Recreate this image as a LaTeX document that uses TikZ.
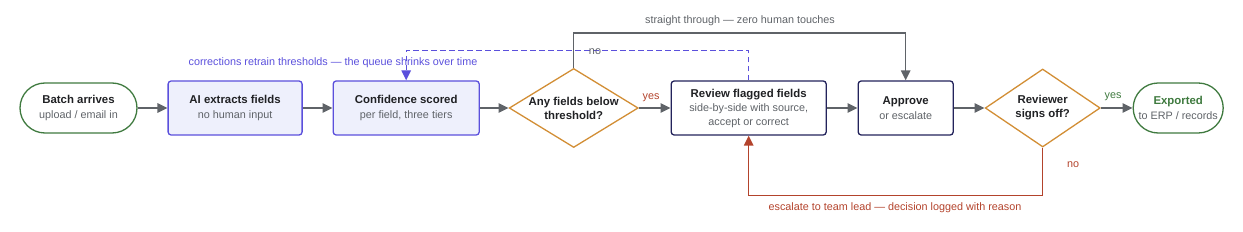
\documentclass[tikz,border=0pt]{standalone}
\usepackage{fontspec}
\setmainfont{Liberation Sans}
\usetikzlibrary{positioning,calc,shapes.geometric,arrows.meta}

\definecolor{ink}{HTML}{202124}
\definecolor{subgray}{HTML}{5F6368}
\definecolor{flowgray}{HTML}{5F6368}
\definecolor{aiblue}{HTML}{5B50DC}
\definecolor{aifill}{HTML}{EEF0FC}
\definecolor{navy}{HTML}{23235B}
\definecolor{gate}{HTML}{D28E35}
\definecolor{okgreen}{HTML}{3F7A3F}
\definecolor{escred}{HTML}{B3432C}

\newcommand{\subtxt}[1]{{\fontsize{10.8}{14}\selectfont\color{subgray}#1}}

\begin{document}
\begin{tikzpicture}[
  x=1pt, y=-1pt,
  >={Triangle[length=10pt,width=9.5pt]},
  node distance=29.8pt,
  every node/.style={font=\fontsize{11.4}{14.5}\selectfont, align=center, text=ink},
  box/.style={draw, line width=1.3pt, rounded corners=3pt, minimum height=54pt, inner sep=2pt},
  terminal/.style={draw=okgreen, line width=1.3pt, rounded corners=25pt, minimum height=50pt, inner sep=2pt},
  aibox/.style={box, draw=aiblue, fill=aifill},
  humanbox/.style={box, draw=navy, fill=white},
  decision/.style={diamond, draw=gate, line width=1.3pt, aspect=1.63, inner sep=-4pt, font=\bfseries\fontsize{11.4}{14}\selectfont},
  flow/.style={->, draw=flowgray, line width=1.4pt},
  tag/.style={font=\fontsize{10.8}{13}\selectfont}
]
\useasboundingbox (0,0) rectangle (1243,232);

\node[terminal, minimum width=117pt] (batch) at (78.5,108) {\textbf{Batch arrives}\\\subtxt{upload / email in}};
\node[aibox, minimum width=134pt, right=of batch] (extract) {\textbf{AI extracts fields}\\\subtxt{no human input}};
\node[aibox, minimum width=146pt, right=of extract] (scored) {\textbf{Confidence scored}\\\subtxt{per field, three tiers}};
\node[decision, minimum width=129pt, minimum height=79pt, right=28.7pt of scored] (below) {Any fields below\\threshold?};
\node[humanbox, minimum width=155pt, right=31.7pt of below] (review) {\textbf{Review flagged fields}\\\subtxt{side-by-side with source,}\\[-1pt]\subtxt{accept or correct}};
\node[humanbox, minimum width=95pt, right=30.7pt of review] (approve) {\textbf{Approve}\\\subtxt{or escalate}};
\node[decision, minimum width=115pt, minimum height=78pt, right=30.7pt of approve] (signoff) {Reviewer\\signs off?};
\node[terminal, minimum width=90pt, right=31.7pt of signoff] (export) {\textcolor{okgreen}{\textbf{Exported}}\\\subtxt{to ERP / records}};

% main line
\draw[flow] (batch) -- (extract);
\draw[flow] (extract) -- (scored);
\draw[flow] (scored) -- (below);
\draw[flow] (below) -- (review);
\draw[flow] (review) -- (approve);
\draw[flow] (approve) -- (signoff);
\draw[flow] (signoff) -- (export);

% branches
\draw[flow] (below.north) -- ++(0,-35) -| (approve.north);
\draw[->, draw=aiblue, line width=1.3pt, dash pattern=on 5.5pt off 3.5pt] (review.north) -- ++(0,-30) -| (scored.north);
\draw[->, draw=escred, line width=1.3pt] (signoff.south) -- ++(0,48) -| (review.south);

% labels
\node[tag, text=subgray] (thru) at (740,21) {straight through --- zero human touches};
\node[tag, text=aiblue] (retrain) at (333,63) {corrections retrain thresholds --- the queue shrinks over time};
\node[tag, text=subgray] (nolow) at (595,52) {no};
\node[tag, text=escred] (yeslow) at (651,98) {yes};
\node[tag, text=okgreen] (yesok) at (1113,97) {yes};
\node[tag, text=escred] (nook) at (1073,165) {no};
\node[tag, text=escred] (esc) at (895,208) {escalate to team lead --- decision logged with reason};

\end{tikzpicture}
\end{document}
